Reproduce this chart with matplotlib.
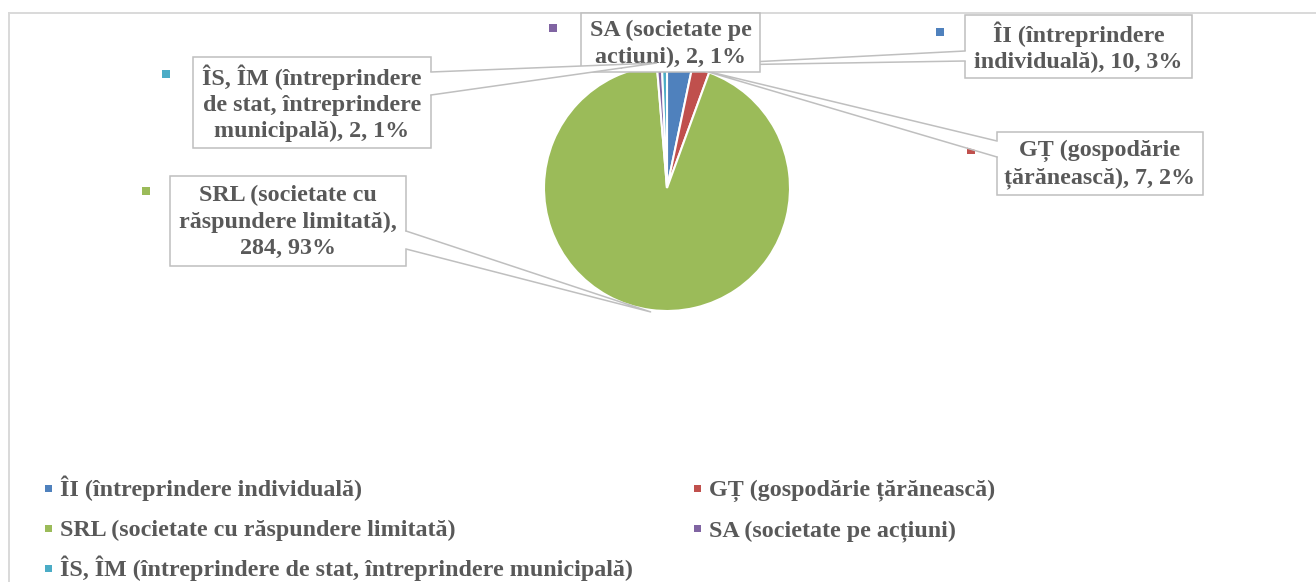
import matplotlib
matplotlib.use("Agg")
import matplotlib.pyplot as plt
from matplotlib.patches import Rectangle, Polygon
from matplotlib.lines import Line2D
import numpy as np

# ---- data ----
categories = ["ÎI (întreprindere individuală)",
              "GȚ (gospodărie țărănească)",
              "SRL (societate cu răspundere limitată)",
              "SA (societate pe acțiuni)",
              "ÎS, ÎM (întreprindere de stat, întreprindere municipală)"]
values = [10, 7, 284, 2, 2]
colors = ["#4F81BD", "#C0504D", "#9BBB59", "#8064A2", "#4BACC6"]
# wrapped label names as shown in the callouts
label_names = ["ÎI (întreprindere\nindividuală)",
               "GȚ (gospodărie\nțărănească)",
               "SRL (societate cu\nrăspundere limitată)",
               "SA (societate pe\nacțiuni)",
               "ÎS, ÎM (întreprindere\nde stat, întreprindere\nmunicipală)"]
label_seps = [", ", ", ", ",\n", ", ", ", "]

W, H = 1316, 582
TXT = "#595959"
EDGE = "#BFBFBF"
FONT = "Liberation Serif"
FS = 17.3

fig = plt.figure(figsize=(W / 100, H / 100), dpi=100)
fig.patch.set_facecolor("white")

def fx(x):
    return x / W

def fy(y):
    return 1 - y / H

# outer frame
fig.add_artist(Line2D([fx(8.5), fx(8.5)], [fy(12.5), fy(H + 5)], color="#D9D9D9", lw=1.4,
                      transform=fig.transFigure, zorder=0.5))
fig.add_artist(Line2D([fx(8.5), fx(W + 5)], [fy(12.5), fy(12.5)], color="#D9D9D9", lw=1.4,
                      transform=fig.transFigure, zorder=0.5))

# pie
cx, cy, r = 667, 188, 123
ax = fig.add_axes([fx(cx - r), fy(cy + r), 2 * r / W, 2 * r / H])
ax.set_zorder(1)
wedges, _ = ax.pie(values, colors=colors, startangle=90, counterclock=False,
                   wedgeprops=dict(edgecolor="white", linewidth=1.5), radius=1.0)
ax.set_xlim(-1, 1)
ax.set_ylim(-1, 1)
ax.set_aspect("equal")
ax.axis("off")

total = sum(values)
pcts = [int(round(v / total * 100)) for v in values]

# label layout (pixel boxes), marker positions, wedge bases
boxes = [(965, 15, 1192, 78), (997, 132, 1203, 195), (170, 176, 406, 266),
         (581, 13, 760, 72), (193, 57, 431, 148)]
markers = [(940, 32), (971, 150), (146, 191), (553, 28), (166, 74)]
bases = [((965, 51), (965, 61)), ((997, 141), (997, 157)), ((406, 231), (406, 249)),
         None, ((431, 72), (431, 95))]
tip_shift = [(0, 0), (0, 0), (0, 2), (0, 0), (-8, -2)]

# tip points computed from slice mid-angles
tips = []
for w in wedges:
    th = np.deg2rad((w.theta1 + w.theta2) / 2)
    tips.append((cx + r * np.cos(th), cy - r * np.sin(th)))

z = 2
for i in range(len(values)):
    x0, y0, x1, y1 = boxes[i]
    mx, my = markers[i]
    fig.add_artist(Rectangle((fx(mx - 4), fy(my + 4)), 8 / W, 8 / H, facecolor=colors[i],
                             edgecolor="none", transform=fig.transFigure, zorder=z))
    fig.add_artist(Rectangle((fx(x0), fy(y1)), (x1 - x0) / W, (y1 - y0) / H, facecolor="white",
                             edgecolor=EDGE, lw=1.1, transform=fig.transFigure, zorder=z + 0.1))
    if bases[i] is not None:
        b1, b2 = bases[i]
        tx, ty = tips[i]
        tx += tip_shift[i][0]
        ty += tip_shift[i][1]
        inset = 2 if b1[0] <= x0 + 1 else -2
        poly = [(fx(b1[0] + inset), fy(b1[1])), (fx(tx), fy(ty)), (fx(b2[0] + inset), fy(b2[1]))]
        fig.add_artist(Polygon(poly, closed=True, facecolor="white", edgecolor="none",
                               transform=fig.transFigure, zorder=z + 0.2))
        fig.add_artist(Line2D([fx(b1[0]), fx(tx), fx(b2[0])], [fy(b1[1]), fy(ty), fy(b2[1])],
                              color=EDGE, lw=1.1, transform=fig.transFigure, zorder=z + 0.3))
    txt = f"{label_names[i]}{label_seps[i]}{values[i]}, {pcts[i]}%"
    fig.text(fx((x0 + x1) / 2), fy((y0 + y1) / 2 + 1), txt, ha="center", va="center",
             multialignment="center", fontsize=FS, fontweight="bold", family=FONT, color=TXT,
             linespacing=1.32, zorder=z + 0.4)
    z += 1

# legend
leg_pos = [(48, 488), (697, 488), (48, 528), (697, 528), (48, 568)]
for i, (lx, ly) in enumerate(leg_pos):
    fig.add_artist(Rectangle((fx(lx - 3.5), fy(ly + 3.5)), 7 / W, 7 / H, facecolor=colors[i],
                             edgecolor="none", transform=fig.transFigure, zorder=10))
    fig.text(fx(lx + 12), fy(ly + 8), categories[i], ha="left", va="baseline", fontsize=FS,
             fontweight="bold", family=FONT, color=TXT, zorder=10)

fig.savefig("out.png", dpi=100, facecolor="white")
